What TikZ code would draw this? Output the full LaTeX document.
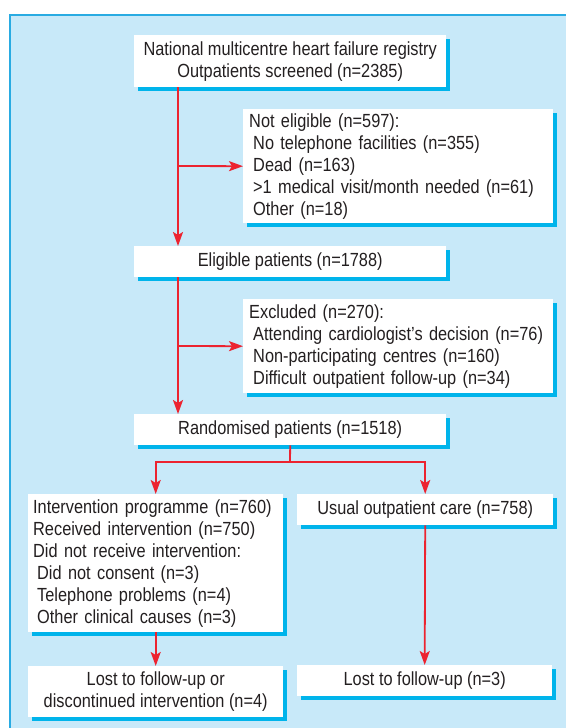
\documentclass[tikz,border=0pt]{standalone}
\usepackage{fontspec}
\setmainfont{Liberation Sans}[FakeStretch=0.86]
\usetikzlibrary{arrows.meta, shadows}
\definecolor{panel}{HTML}{C8E9F9}
\definecolor{panelline}{HTML}{29ABE2}
\definecolor{boxshadow}{HTML}{00B4EB}
\definecolor{flowred}{HTML}{EC2330}
\definecolor{ink}{HTML}{231F20}

\newcommand{\ind}{\hspace*{4pt}}

\begin{document}
\begin{tikzpicture}[
    x=1pt, y=-1pt,
    flowbox/.style={
        fill=white, inner sep=0pt, text=ink, anchor=north west,
        font=\fontsize{19}{22}\selectfont,
        general shadow={fill=boxshadow, shadow xshift=4pt, shadow yshift=-4pt},
    },
    listbox/.style={flowbox, align=left, inner xsep=6pt},
    flowline/.style={flowred, line width=1.8pt},
    flowarrow/.style={
        flowline,
        -{Stealth[length=14pt, width=10pt, inset=3pt]},
    },
]
\useasboundingbox (0,0) rectangle (566,728);

% =============================================
% PANEL
% =============================================
\fill[panel] (10,15) rectangle (566,728);
\draw[panelline, line width=1.5pt] (10,728) -- (10,15) -- (566,15);

% =============================================
% SCREENING AND ELIGIBILITY
% =============================================
\node[flowbox, align=center, minimum width=312pt, minimum height=52pt] (screened) at (134,35)
    {National multicentre heart failure registry\\Outpatients screened (n=2385)};

\node[listbox, text width=298pt, minimum height=114pt] (noteligible) at (243,109) {%
  Not eligible (n=597):\\
  \ind No telephone facilities (n=355)\\
  \ind Dead (n=163)\\
  \ind >1 medical visit/month needed (n=61)\\
  \ind Other (n=18)%
};

\node[flowbox, minimum width=312pt, minimum height=31pt] (eligible) at (134,246)
    {Eligible patients (n=1788)};

\node[listbox, text width=298pt, minimum height=94pt] (excluded) at (243,299) {%
  Excluded (n=270):\\
  \ind \mbox{Attending cardiologist’s decision (n=76)}\\
  \ind Non-participating centres (n=160)\\
  \ind Difficult outpatient follow-up (n=34)%
};

\node[flowbox, minimum width=312pt, minimum height=31pt] (randomised) at (134,414)
    {Randomised patients (n=1518)};

% =============================================
% TWO ARMS
% =============================================
\node[listbox, inner xsep=5pt, text width=245pt, minimum height=138pt] (intervention) at (28,494) {%
  Intervention programme (n=760)\\
  Received intervention (n=750)\\
  Did not receive intervention:\\
  \ind Did not consent (n=3)\\
  \ind Telephone problems (n=4)\\
  \ind Other clinical causes (n=3)%
};

\node[flowbox, minimum width=256pt, minimum height=31pt] (usual) at (297,494)
    {Usual outpatient care (n=758)};

\node[flowbox, align=center, minimum width=255pt, minimum height=51pt] (lostleft) at (28,666)
    {Lost to follow-up or\\discontinued intervention (n=4)};

\node[flowbox, minimum width=255pt, minimum height=31pt] (lostright) at (297,665)
    {Lost to follow-up (n=3)};

% =============================================
% CONNECTORS
% =============================================
\coordinate (split1) at (178,166);
\coordinate (split2) at (178,346);
\coordinate (fork) at (290,462);

\draw[flowarrow] (screened.south -| split1) -- (eligible.north -| split1);
\draw[flowarrow] (split1) -- (noteligible.west);
\draw[flowarrow] (eligible.south -| split2) -- (randomised.north -| split2);
\draw[flowarrow] (split2) -- (excluded.west);

\draw[flowline] (randomised.south) -- (fork);
\draw[flowarrow] (fork) -| (intervention.north);
\draw[flowarrow] (fork) -| (usual.north);

\draw[flowarrow] (intervention.south) -- (lostleft.north);
\draw[flowarrow] (usual.south) -- (lostright.north);

\end{tikzpicture}
\end{document}
